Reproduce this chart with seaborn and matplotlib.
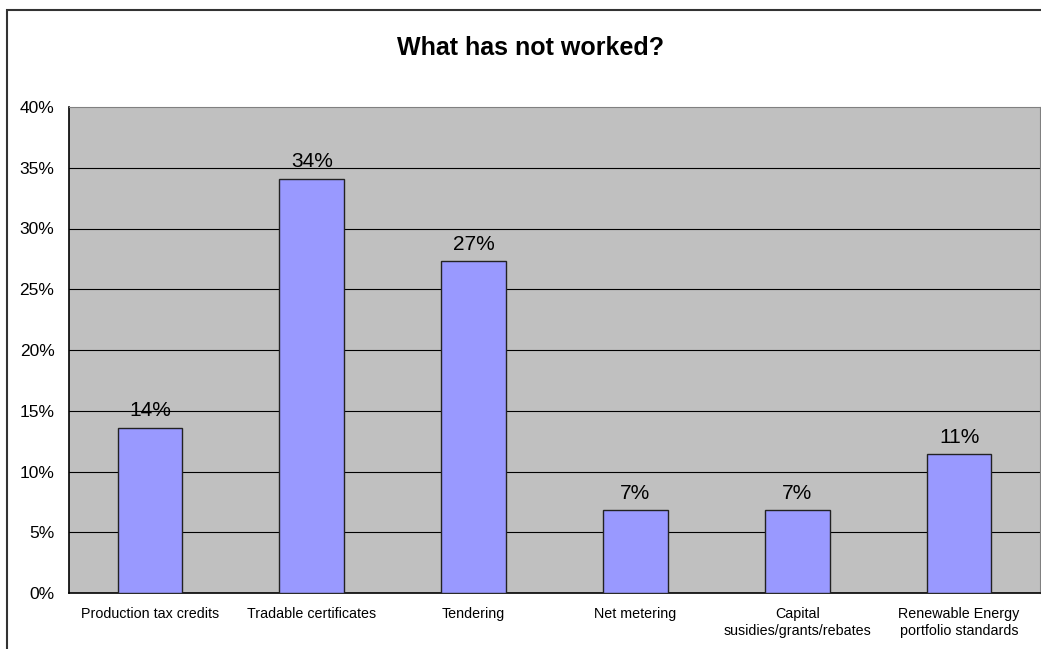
import numpy as np
import pandas as pd
import matplotlib
matplotlib.use("Agg")
import matplotlib.pyplot as plt
import seaborn as sns
from matplotlib.patches import Rectangle
from matplotlib.ticker import FixedLocator, NullFormatter

categories = ["Production tax credits", "Tradable certificates", "Tendering",
              "Net metering", "Capital\nsusidies/grants/rebates",
              "Renewable Energy\nportfolio standards"]
shares = [13.6, 34.1, 27.3, 6.8, 6.8, 11.4]
labels = ["14%", "34%", "27%", "7%", "7%", "11%"]
yticks = [0, 5, 10, 15, 20, 25, 30, 35, 40]

sns.set_style("white")
plt.rcParams['font.family'] = ['Liberation Sans', 'DejaVu Sans']
plt.rcParams['text.color'] = 'black'
plt.rcParams['xtick.color'] = 'black'
plt.rcParams['ytick.color'] = 'black'

df = pd.DataFrame({"cat": categories, "val": shares})

fig = plt.figure(figsize=(10.41, 6.49), dpi=100)
ax = fig.add_axes([69/1041, 1 - 593/649, (1040 - 69)/1041, (593 - 107)/649])

# outer chart border (Excel-like frame)
fig.patches.append(Rectangle((7/1041, -0.1), 1.2, 1 - 10/649 + 0.1,
                             transform=fig.transFigure, fill=False,
                             edgecolor="#333333", linewidth=1.5, zorder=0))

ax.set_facecolor("#C0C0C0")
sns.barplot(data=df, x="cat", y="val", color="#9999FF", width=0.4,
            edgecolor="#222222", linewidth=1.0, saturation=1, ax=ax, zorder=3)

ax.set_ylim(0, 40)
ax.set_xlim(-0.5, len(categories) - 0.5)
ax.set_yticks(yticks)
ax.set_yticklabels([f"{t}%" for t in yticks], fontsize=12.5)
for t in yticks[1:-1]:
    ax.axhline(t, color="black", linewidth=0.8, zorder=1)

ax.set_xticks(range(len(categories)))
ax.set_xticklabels(categories, fontsize=10.3, linespacing=1.25)
ax.tick_params(axis="x", length=0, pad=10)
ax.xaxis.set_minor_locator(FixedLocator(np.arange(0.5, len(categories) - 0.5, 1)))
ax.xaxis.set_minor_formatter(NullFormatter())
ax.tick_params(axis="x", which="minor", length=5, width=1, color="black", direction="out")
ax.tick_params(axis="y", length=4.5, width=1, color="black", direction="out", pad=6)
ax.set_xlabel("")
ax.set_ylabel("")

for sp in ["left", "bottom"]:
    ax.spines[sp].set_color("black")
    ax.spines[sp].set_linewidth(1.2)
ax.spines["top"].set_color("#808080")
ax.spines["right"].set_color("#808080")

for i, (v, lab) in enumerate(zip(shares, labels)):
    ax.text(i, v + 0.6, lab, ha="center", va="bottom", fontsize=15, zorder=4)

fig.text(531/1041, 1 - 48/649, "What has not worked?", ha="center", va="center",
         fontsize=18, fontweight="bold")

fig.savefig("out.png", dpi=100)
